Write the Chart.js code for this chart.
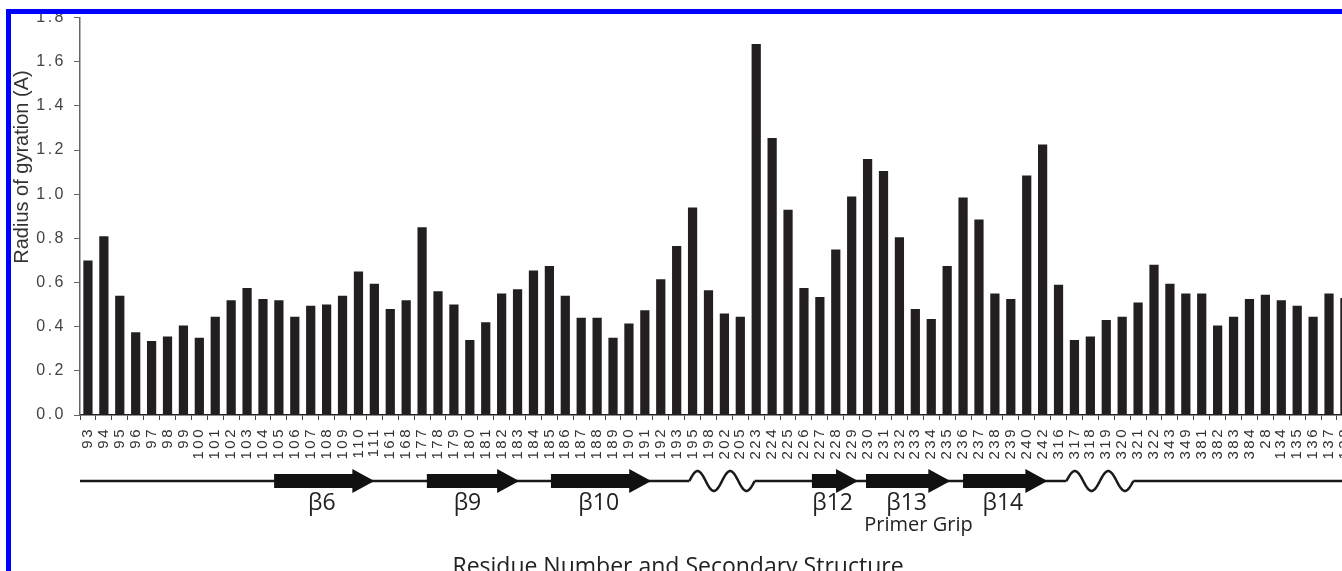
<!DOCTYPE html>
<html>
<head>
<meta charset="utf-8">
<script src="https://cdn.jsdelivr.net/npm/chart.js@4.4.0/dist/chart.umd.min.js"></script>
<style>
  html, body { margin: 0; padding: 0; background: #fff; overflow: hidden; }
  #wrap { position: absolute; left: 0; top: 0; width: 1370px; height: 590px; }
  .frame { position: absolute; background: #0000ff; }
</style>
</head>
<body>
<div id="wrap"><canvas id="rgChart"></canvas></div>
<div class="frame" style="left:6px;top:9px;width:5px;height:562px"></div>
<div class="frame" style="left:6px;top:9px;width:1336px;height:5px"></div>
<script>
// Residuos (eje x) y radio de giro
const residues = ['93','94','95','96','97','98','99','100','101','102','103','104','105','106','107','108','109','110','111','161','168',
  '177','178','179','180','181','182','183','184','185','186','187','188','189','190','191','192','193','195','198','202','205',
  '223','224','225','226','227','228','229','230','231','232','233','234','235','236','237','238','239','240','242',
  '316','317','318','319','320','321','322','343','349','381','382','383','384','28','134','135','136','137','138'];

const radius = [0.70, 0.81, 0.54, 0.375, 0.335, 0.355, 0.405, 0.35, 0.445, 0.52, 0.575, 0.525, 0.52, 0.445, 0.495, 0.50, 0.54, 0.65, 0.595, 0.48, 0.52,
  0.85, 0.56, 0.50, 0.34, 0.42, 0.55, 0.57, 0.655, 0.675, 0.54, 0.44, 0.44, 0.35, 0.415, 0.475, 0.615, 0.765, 0.94, 0.565, 0.46, 0.445,
  1.68, 1.255, 0.93, 0.575, 0.535, 0.75, 0.99, 1.16, 1.105, 0.805, 0.48, 0.435, 0.675, 0.985, 0.885, 0.55, 0.525, 1.085, 1.225,
  0.59, 0.34, 0.355, 0.43, 0.445, 0.51, 0.68, 0.595, 0.55, 0.55, 0.405, 0.445, 0.525, 0.545, 0.52, 0.495, 0.445, 0.55, 0.53];

const yTicks = [0, 0.2, 0.4, 0.6, 0.8, 1.0, 1.2, 1.4, 1.6, 1.8];

// Estructura secundaria (en índices de residuo)
const strands = [
  { label: 'β6',  from: 11.7, to: 18.0, labelAt: 14.7 },
  { label: 'β9',  from: 21.3, to: 27.1, labelAt: 23.85 },
  { label: 'β10', from: 29.1, to: 35.4, labelAt: 32.1 },
  { label: 'β12', from: 45.5, to: 48.4, labelAt: 46.8 },
  { label: 'β13', from: 48.9, to: 54.2, labelAt: 51.45 },
  { label: 'β14', from: 55.0, to: 60.3, labelAt: 57.5 }
];
const loops = [ { from: 37.8, to: 41.9 }, { from: 61.5, to: 65.7 } ];
const notes = [ { text: 'Primer Grip', at: 52.2 } ];

const secondaryPlugin = {
  id: 'secondary',
  beforeDraw(chart) {
    chart.ctx.letterSpacing = '2.5px';
  },
  afterDraw(chart) {
    const ctx = chart.ctx;
    const x = chart.scales.x;
    const px = v => x.getPixelForValue(v);
    const lineY = 481;
    ctx.save();
    ctx.letterSpacing = '0px';

    // linea base
    ctx.strokeStyle = '#1a1a1a';
    ctx.lineWidth = 2.5;
    const stops = [chart.chartArea.left];
    loops.forEach(l => { stops.push(px(l.from), px(l.to)); });
    stops.push(chart.width);
    for (let i = 0; i < stops.length; i += 2) {
      ctx.beginPath();
      ctx.moveTo(stops[i], lineY);
      ctx.lineTo(stops[i + 1], lineY);
      ctx.stroke();
    }
    // lazos ondulados
    loops.forEach(l => {
      const x0 = px(l.from), x1 = px(l.to);
      ctx.beginPath();
      for (let k = 0; k <= 60; k++) {
        const t = k / 60;
        const yy = lineY - 10 * Math.sin(t * Math.PI * 4);
        if (k === 0) ctx.moveTo(x0, yy); else ctx.lineTo(x0 + (x1 - x0) * t, yy);
      }
      ctx.stroke();
    });
    // flechas beta
    ctx.fillStyle = '#111';
    strands.forEach(s => {
      const x0 = px(s.from), x1 = px(s.to);
      const head = 22, bh = 7, hh = 12;
      ctx.beginPath();
      ctx.moveTo(x0, lineY - bh);
      ctx.lineTo(x1 - head, lineY - bh);
      ctx.lineTo(x1 - head, lineY - hh);
      ctx.lineTo(x1, lineY);
      ctx.lineTo(x1 - head, lineY + hh);
      ctx.lineTo(x1 - head, lineY + bh);
      ctx.lineTo(x0, lineY + bh);
      ctx.closePath();
      ctx.fill();
    });
    // etiquetas
    ctx.fillStyle = '#222';
    ctx.textAlign = 'center';
    ctx.textBaseline = 'middle';
    ctx.font = '23px "Open Sans"';
    strands.forEach(s => ctx.fillText(s.label, px(s.labelAt), 503));
    ctx.font = '20px "Open Sans"';
    notes.forEach(n => ctx.fillText(n.text, px(n.at), 525));
    ctx.font = '23px "Open Sans"';
    ctx.fillText('Residue Number and Secondary Structure', 678, 567);

    // titulo eje y
    ctx.translate(22, 167);
    ctx.rotate(-Math.PI / 2);
    ctx.font = '20px "Liberation Sans"';
    ctx.fillStyle = '#333';
    ctx.fillText('Radius of gyration (A)', 0, 0);
    ctx.restore();
  }
};

const ctxRg = document.getElementById('rgChart').getContext('2d');
new Chart(ctxRg, {
  type: 'bar',
  data: {
    labels: residues,
    datasets: [{
      data: radius,
      backgroundColor: '#231f20',
      borderWidth: 0,
      barPercentage: 0.58,
      categoryPercentage: 1.0
    }]
  },
  options: {
    responsive: true,
    maintainAspectRatio: false,
    animation: false,
    layout: { padding: { top: 16.5, right: 11.4, left: 0, bottom: 0 } },
    plugins: {
      legend: { display: false },
      tooltip: { enabled: false }
    },
    scales: {
      x: {
        offset: true,
        grid: { offset: true, drawOnChartArea: false, tickLength: 5, color: '#444' },
        border: { color: '#222', width: 1.5 },
        ticks: {
          autoSkip: false,
          maxRotation: 90,
          minRotation: 90,
          padding: 7,
          color: '#333',
          font: { family: 'Liberation Sans', size: 15 }
        },
        afterFit(scale) { scale.height = 175; }
      },
      y: {
        min: 0,
        max: 1.8,
        grid: { drawOnChartArea: false, tickLength: 6, color: '#666' },
        border: { color: '#666', width: 1.5 },
        afterBuildTicks(scale) { scale.ticks = yTicks.map(v => ({ value: v })); },
        ticks: {
          padding: 8,
          color: '#444',
          font: { family: 'Liberation Sans', size: 16 },
          callback: v => v.toFixed(1)
        },
        afterFit(scale) { scale.width = 80; }
      }
    }
  },
  plugins: [secondaryPlugin]
});
</script>
</body>
</html>
